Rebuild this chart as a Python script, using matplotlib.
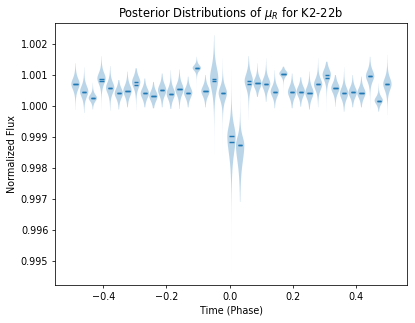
import numpy as np
import matplotlib
matplotlib.use("Agg")
import matplotlib.pyplot as plt

# phase positions of each posterior
phase = np.linspace(-0.488, 0.4995, 37)

medians = [1.00071, 1.00047, 1.00026, 1.00089, 1.00059, 1.00041, 1.00049, 1.00077, 1.00041, 1.00032,
           1.00051, 1.00040, 1.00054, 1.00043, 1.00123, 1.00048, 1.00089, 1.00042, 0.99902, 0.99874,
           1.00081, 1.00073, 1.00072, 1.00047, 1.00105, 1.00045, 1.00047, 1.00043, 1.00070, 1.00101,
           1.00058, 1.00041, 1.00044, 1.00042, 1.00097, 1.00018, 1.00071]
means = [1.00071, 1.00047, 1.00026, 1.00080, 1.00059, 1.00041, 1.00049, 1.00069, 1.00041, 1.00032,
         1.00051, 1.00040, 1.00054, 1.00043, 1.00123, 1.00048, 1.00081, 1.00042, 0.99885, 0.99874,
         1.00071, 1.00073, 1.00072, 1.00047, 1.00105, 1.00045, 1.00047, 1.00043, 1.00070, 1.00092,
         1.00058, 1.00041, 1.00044, 1.00042, 1.00097, 1.00018, 1.00071]
maxima = [1.00138, 1.00125, 1.00075, 1.00161, 1.00129, 1.00084, 1.00111, 1.00122, 1.00089, 1.00078,
          1.00105, 1.00116, 1.00118, 1.00095, 1.00159, 1.00100, 1.00229, 1.00154, 1.00116, 1.00068,
          1.00161, 1.00138, 1.00154, 1.00116, 1.00127, 1.00105, 1.00093, 1.00111, 1.00154, 1.00143,
          1.00100, 1.00125, 1.00100, 1.00095, 1.00159, 1.00073, 1.00165]
minima = [0.99987, 0.99978, 0.99989, 0.99989, 0.99985, 0.99989, 0.99996, 0.99987, 0.99996, 0.99993,
          0.99996, 0.99991, 0.99991, 0.99996, 1.00035, 0.99996, 0.99847, 0.99648, 0.99461, 0.99691,
          0.99957, 1.00030, 1.00014, 0.99993, 1.00014, 0.99993, 0.99998, 0.99989, 0.99996, 0.99982,
          0.99998, 0.99982, 0.99996, 0.99996, 0.99993, 0.99982, 0.99971]
spread_up = [0.00020, 0.00020, 0.00012, 0.00020, 0.00020, 0.00018, 0.00020, 0.00020, 0.00018, 0.00018,
             0.00020, 0.00020, 0.00020, 0.00018, 0.00010, 0.00018, 0.00040, 0.00022, 0.00040, 0.00030,
             0.00025, 0.00018, 0.00020, 0.00018, 0.00010, 0.00020, 0.00018, 0.00020, 0.00020, 0.00020,
             0.00018, 0.00020, 0.00018, 0.00018, 0.00020, 0.00013, 0.00022]
spread_dn = [0.00020, 0.00020, 0.00012, 0.00020, 0.00020, 0.00018, 0.00020, 0.00020, 0.00018, 0.00018,
             0.00020, 0.00020, 0.00020, 0.00018, 0.00010, 0.00018, 0.00040, 0.00025, 0.00060, 0.00060,
             0.00025, 0.00018, 0.00020, 0.00018, 0.00010, 0.00020, 0.00018, 0.00020, 0.00020, 0.00020,
             0.00018, 0.00020, 0.00018, 0.00018, 0.00020, 0.00013, 0.00022]

NU = 4.0
vpstats = []
for med, mn, lo, hi, su, sd in zip(medians, means, minima, maxima, spread_up, spread_dn):
    coords = np.linspace(lo, hi, 300)
    s = np.where(coords >= med, su, sd)
    z = (coords - med) / s
    vals = (1 + z ** 2 / NU) ** (-(NU + 1) / 2)
    vpstats.append(dict(coords=coords, vals=vals, mean=mn, median=med, min=lo, max=hi))

DPI = 69
fig = plt.figure(figsize=(415 / DPI, 323 / DPI), dpi=DPI)
ax = fig.add_axes([55 / 415, 1 - 285 / 323, 352 / 415, 262 / 323])
parts = ax.violin(vpstats, positions=phase, widths=0.0263, showmeans=True, showextrema=False,
                  showmedians=True)
for b in parts['bodies']:
    b.set_facecolor('C0')
    b.set_edgecolor('none')
    b.set_alpha(0.3)
for key in ('cmeans', 'cmedians'):
    parts[key].set_color('C0')
    parts[key].set_linewidth(1.5)
ax.set_xlim(-0.553, 0.5615)
ax.set_ylim(0.99423, 1.00268)
ax.set_xticks([-0.4, -0.2, 0.0, 0.2, 0.4])
ax.set_title(r"Posterior Distributions of $\mu_R$ for K2-22b")
ax.set_xlabel("Time (Phase)")
ax.set_ylabel("Normalized Flux")
fig.savefig("out.png", dpi=DPI)
